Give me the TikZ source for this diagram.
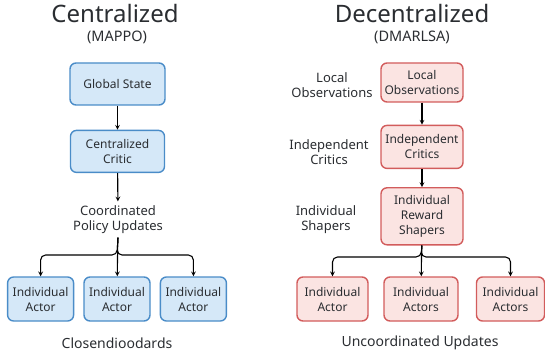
\documentclass[tikz,border=0pt]{standalone}
\usepackage{fontspec}
\setmainfont{Noto Sans}
\usepackage{tikz}
\usetikzlibrary{arrows,positioning}
\definecolor{cblue}{HTML}{4A8CC8}
\definecolor{cfill}{HTML}{D5E8F8}
\definecolor{dred}{HTML}{D25C5C}
\definecolor{dfill}{HTML}{FBE4E2}
\definecolor{txt}{HTML}{2A2D31}

\begin{document}
\begin{tikzpicture}[x=1pt, y=1pt, >=stealth, line width=1.1pt, text=txt, font=\fontsize{12}{15}\selectfont, box/.style = {draw, rounded corners=6pt, line width=1.4pt, align=center, inner sep=0pt}, cbox/.style = {box, draw=cblue, fill=cfill}, dbox/.style = {box, draw=dred, fill=dfill}, title/.style = {font=\fontsize{24}{28}\selectfont}, sub/.style = {font=\fontsize{14.5}{17}\selectfont}, note/.style = {font=\fontsize{14}{17}\selectfont}, side/.style = {align=center, font=\fontsize{13}{15.5}\selectfont}]
\useasboundingbox (0,0) rectangle (545,-355);

\node[title] (cTitle) at (115,-14) {Centralized};
\node[sub] (cSub) at (117,-37) {(MAPPO)};
\node[cbox, minimum width=95pt, minimum height=42pt] (globalState) at (117.5,-84) {Global State};
\node[cbox, minimum width=94pt, minimum height=42pt] (cCritic) [below=24pt of globalState] {Centralized\\Critic};
\node[side] (policyUpd) at (118,-219.5) {Coordinated\\Policy Updates};
\node[cbox, minimum width=66pt, minimum height=44pt] (cActorB) at (117,-299) {Individual\\Actor};
\node[cbox, minimum width=66pt, minimum height=44pt] (cActorA) [left=9pt of cActorB] {Individual\\Actor};
\node[cbox, minimum width=66pt, minimum height=44pt] (cActorC) [right=9pt of cActorB] {Individual\\Actor};
\node[note] (cNote) at (117,-343) {Closendioodards};
\coordinate (cBus) at (117,-255);

\node[title] (dTitle) at (412,-14) {Decentralized};
\node[sub] (dSub) at (412,-37) {(DMARLSA)};
\node[dbox, minimum width=82pt, minimum height=39pt] (localObs) at (422,-82.5) {Local\\Observations};
\node[dbox, minimum width=82pt, minimum height=43pt] (indCritics) [below=22pt of localObs] {Independent\\Critics};
\node[dbox, minimum width=82pt, minimum height=57pt] (rewShapers) [below=18pt of indCritics] {Individual\\Reward\\Shapers};
\node[side] (obsLbl) at (332,-85) {Local\\Observations};
\node[side] (criticLbl) at (329,-152) {Independent\\Critics};
\node[side] (shaperLbl) at (326,-219.5) {Individual\\Shapers};
\node[dbox, minimum width=71pt, minimum height=44pt] (dActorA) at (332.5,-299) {Individual\\Actor};
\node[dbox, minimum width=74pt, minimum height=44pt] (dActorB) at (421,-299) {Individual\\Actors};
\node[dbox, minimum width=68pt, minimum height=44pt] (dActorC) at (510.5,-299) {Individual\\Actors};
\node[note] (dNote) at (420,-343) {Uncoordinated Updates};
\coordinate (dBus) at (421,-257);

\draw[->] (globalState) -- (cCritic);
\draw[->] (cCritic) -- (policyUpd);
\draw[->] (policyUpd) -- (cActorB);
\draw[->, rounded corners=5pt] (policyUpd.south) -- (cBus) -| (cActorA);
\draw[->, rounded corners=5pt] (policyUpd.south) -- (cBus) -| (cActorC);

\draw[->] (localObs) -- (indCritics);
\draw[->] (indCritics) -- (rewShapers);
\draw[->] (rewShapers) -- (dActorB);
\draw[->, rounded corners=5pt] (rewShapers.south) -- (dBus) -| (dActorA);
\draw[->, rounded corners=5pt] (rewShapers.south) -- (dBus) -| (dActorC);
\end{tikzpicture}
\end{document}
